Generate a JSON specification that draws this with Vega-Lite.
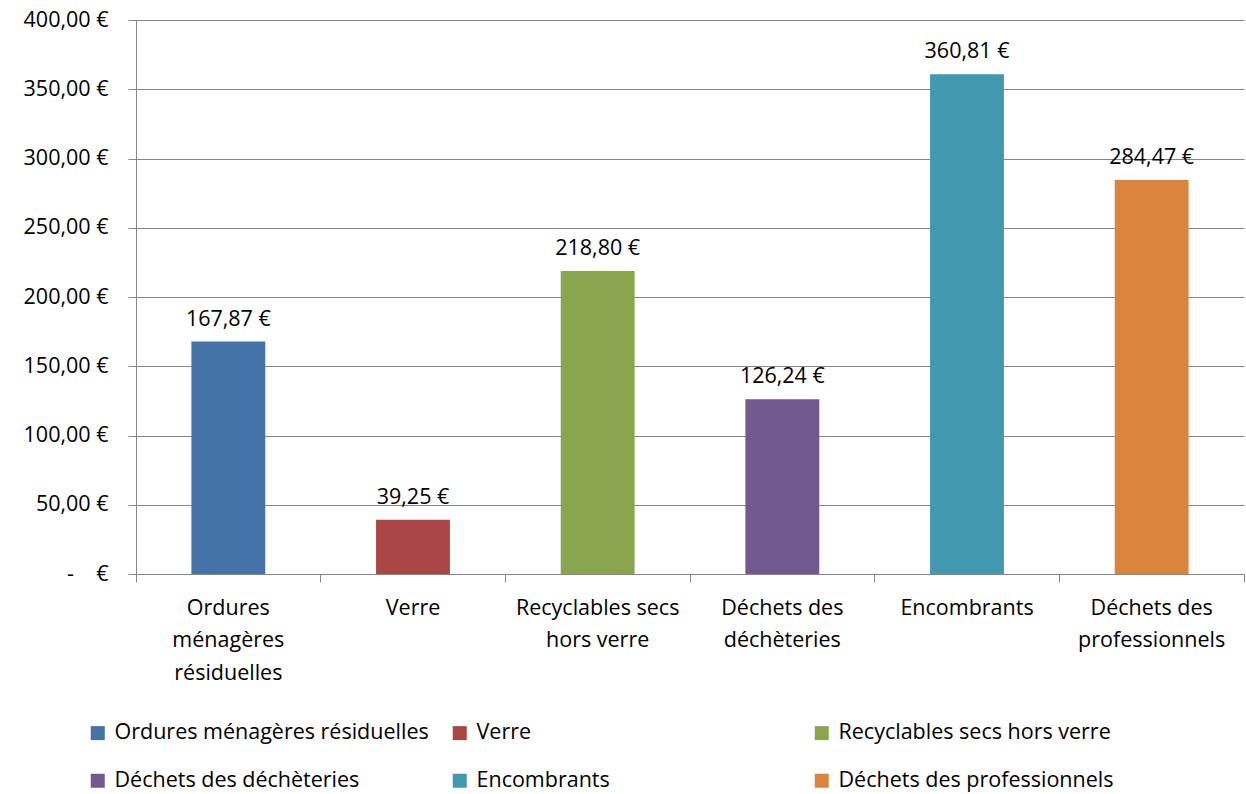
{
  "$schema": "https://vega.github.io/schema/vega-lite/v6.json",
  "width": 1108,
  "height": 554,
  "autosize": {"type": "none"},
  "padding": {"left": 136, "top": 20, "right": 2, "bottom": 220},
  "background": "white",
  "config": {
    "font": "Open Sans",
    "view": {"stroke": null},
    "locale": {"number": {"decimal": ",", "thousands": " ", "grouping": [3], "currency": ["", " €"]}}
  },
  "data": {
    "values": [
      {"categorie": "Ordures ménagères résiduelles", "valeur": 167.87},
      {"categorie": "Verre", "valeur": 39.25},
      {"categorie": "Recyclables secs hors verre", "valeur": 218.80},
      {"categorie": "Déchets des déchèteries", "valeur": 126.24},
      {"categorie": "Encombrants", "valeur": 360.81},
      {"categorie": "Déchets des professionnels", "valeur": 284.47}
    ]
  },
  "encoding": {
    "x": {
      "field": "categorie",
      "type": "nominal",
      "sort": null,
      "scale": {"paddingInner": 0, "paddingOuter": 0},
      "axis": {
        "title": null,
        "labelAngle": 0,
        "labelFontSize": 21.5,
        "labelColor": "black",
        "labelLineHeight": 32.5,
        "labelPadding": 15,
        "labelBaseline": "top",
        "domainColor": "#868686",
        "tickColor": "#868686",
        "tickSize": 8,
        "bandPosition": 1,
        "tickExtra": true,
        "labelExpr": "datum.label == 'Ordures ménagères résiduelles' ? ['Ordures', 'ménagères', 'résiduelles'] : datum.label == 'Recyclables secs hors verre' ? ['Recyclables secs', 'hors verre'] : datum.label == 'Déchets des déchèteries' ? ['Déchets des', 'déchèteries'] : datum.label == 'Déchets des professionnels' ? ['Déchets des', 'professionnels'] : datum.label"
      }
    },
    "y": {
      "field": "valeur",
      "type": "quantitative",
      "scale": {"domain": [0, 400], "nice": false},
      "axis": {
        "title": null,
        "values": [0, 50, 100, 150, 200, 250, 300, 350, 400],
        "format": "$.2f",
        "labelExpr": "datum.value == 0 ? '-\u00a0\u00a0\u00a0\u00a0€' : datum.label",
        "labelFontSize": 21.5,
        "labelColor": "black",
        "labelPadding": 20,
        "tickSize": 8,
        "tickColor": "#868686",
        "domainColor": "#868686",
        "grid": true,
        "gridColor": "#868686",
        "gridOpacity": 1
      }
    }
  },
  "layer": [
    {
      "mark": {"type": "bar", "width": {"band": 0.4}},
      "encoding": {
        "color": {
          "field": "categorie",
          "type": "nominal",
          "sort": null,
          "scale": {
            "domain": ["Ordures ménagères résiduelles", "Verre", "Recyclables secs hors verre", "Déchets des déchèteries", "Encombrants", "Déchets des professionnels"],
            "range": ["#4572A7", "#AA4643", "#89A54E", "#71588F", "#4198AF", "#DB843D"]
          },
          "legend": {
            "title": null,
            "orient": "none",
            "legendX": -49,
            "legendY": 702,
            "direction": "horizontal",
            "columns": 3,
            "gridAlign": "all",
            "symbolType": "square",
            "symbolSize": 196,
            "symbolStrokeWidth": 0,
            "symbolOpacity": 1,
            "labelFontSize": 21.5,
            "labelColor": "black",
            "labelOffset": 6,
            "columnPadding": 20,
            "rowPadding": 25,
            "labelLimit": 0
          }
        }
      }
    },
    {
      "mark": {"type": "text", "baseline": "bottom", "dy": -11, "fontSize": 21.5, "color": "black"},
      "encoding": {
        "text": {"field": "valeur", "type": "quantitative", "format": "$.2f"}
      }
    }
  ]
}
